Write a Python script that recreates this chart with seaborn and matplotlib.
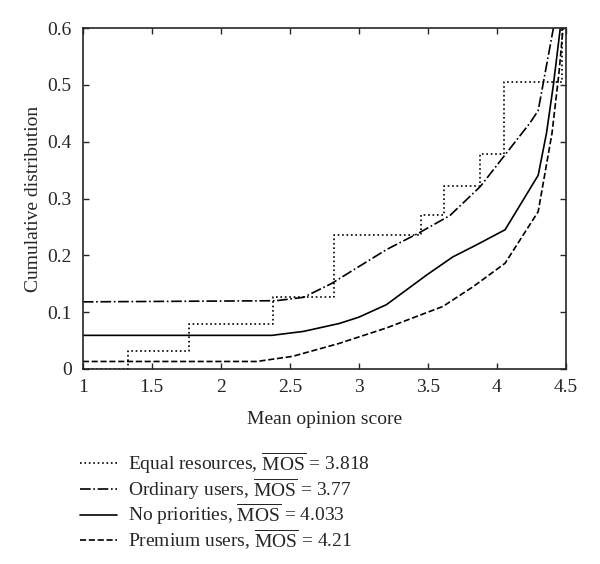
import matplotlib
matplotlib.use("Agg")
import matplotlib.pyplot as plt
import seaborn as sns
import pandas as pd

# Data
equal_x = [1.0, 1.33, 1.77, 2.38, 2.82, 3.45, 3.62, 3.88, 4.05, 4.47, 4.5]
equal_y = [0.0, 0.032, 0.079, 0.127, 0.236, 0.271, 0.322, 0.378, 0.505, 0.62, 0.62]

ordinary_x = [1.0, 2.4, 2.6, 2.8, 3.0, 3.2, 3.44, 3.66, 3.88, 4.06, 4.24, 4.30, 4.41]
ordinary_y = [0.118, 0.12, 0.126, 0.15, 0.18, 0.21, 0.24, 0.27, 0.321, 0.377, 0.433, 0.455, 0.6]

nopri_x = [1.0, 2.37, 2.6, 2.86, 3.0, 3.2, 3.49, 3.68, 3.85, 4.06, 4.30, 4.36, 4.41, 4.46]
nopri_y = [0.059, 0.059, 0.066, 0.08, 0.091, 0.113, 0.165, 0.197, 0.218, 0.245, 0.341, 0.415, 0.5, 0.6]

premium_x = [1.0, 2.26, 2.52, 2.86, 3.2, 3.61, 3.83, 4.06, 4.30, 4.40, 4.45, 4.48]
premium_y = [0.013, 0.013, 0.022, 0.045, 0.072, 0.11, 0.145, 0.186, 0.277, 0.415, 0.52, 0.6]

labels = [
    r"Equal resources, $\overline{\mathrm{MOS}}$ = 3.818",
    r"Ordinary users, $\overline{\mathrm{MOS}}$ = 3.77",
    r"No priorities, $\overline{\mathrm{MOS}}$ = 4.033",
    r"Premium users, $\overline{\mathrm{MOS}}$ = 4.21",
]

sns.set_style("ticks")
plt.rcParams["font.family"] = ["Liberation Serif", "DejaVu Serif"]
plt.rcParams["mathtext.fontset"] = "custom"
plt.rcParams["mathtext.rm"] = "Liberation Serif"
plt.rcParams["xtick.direction"] = "in"
plt.rcParams["ytick.direction"] = "in"

fig = plt.figure(figsize=(6, 5.64), dpi=100)
ax = fig.add_axes([0.138, 0.346, 0.805, 0.604])

series = [
    (equal_x, equal_y, ":", labels[0], "steps-post"),
    (ordinary_x, ordinary_y, "-.", labels[1], "default"),
    (nopri_x, nopri_y, "-", labels[2], "default"),
    (premium_x, premium_y, "--", labels[3], "default"),
]
for xs, ys, ls, lab, ds in series:
    df = pd.DataFrame({"x": xs, "y": ys})
    sns.lineplot(data=df, x="x", y="y", ax=ax, color="black", linestyle=ls,
                 linewidth=1.2, label=lab, drawstyle=ds, sort=False,
                 estimator=None, legend=False)

ax.set_xlim(1, 4.5)
ax.set_ylim(0, 0.6)
ax.set_xticks([1, 1.5, 2, 2.5, 3, 3.5, 4, 4.5])
ax.set_xticklabels(["1", "1.5", "2", "2.5", "3", "3.5", "4", "4.5"])
ax.set_yticks([0, 0.1, 0.2, 0.3, 0.4, 0.5, 0.6])
ax.set_yticklabels(["0", "0.1", "0.2", "0.3", "0.4", "0.5", "0.6"])
ax.tick_params(top=True, right=True, labelsize=14, length=4, width=1)
ax.tick_params(axis="x", pad=7)
ax.tick_params(axis="y", pad=8)
for s in ax.spines.values():
    s.set_linewidth(1.2)
ax.set_xlabel("Mean opinion score", fontsize=14, labelpad=11)
ax.set_ylabel("Cumulative distribution", fontsize=14, labelpad=4)

handles = ax.get_lines()
fig.legend(handles, labels, loc="upper left", bbox_to_anchor=(0.12, 0.216),
           frameon=False, fontsize=14, handlelength=1.9, handletextpad=0.6,
           labelspacing=0.0, borderaxespad=0)

fig.savefig("out.png", dpi=100)
